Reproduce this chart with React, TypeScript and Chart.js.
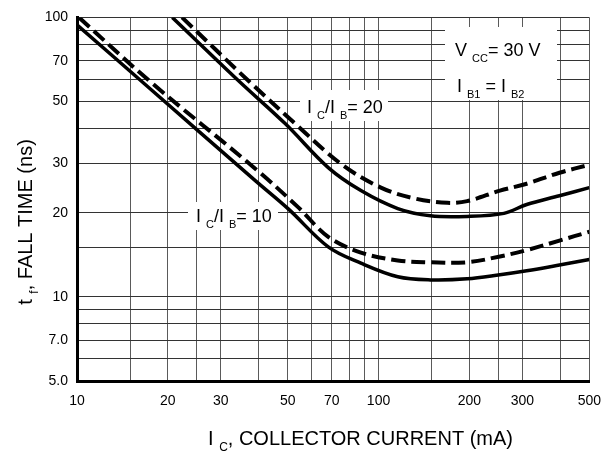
import React, { useEffect, useRef } from 'react';
import { Chart, registerables } from 'chart.js';

Chart.register(...registerables);

// Grid lines and tick labels
const xGridValues = [10, 15, 20, 25, 30, 40, 50, 60, 70, 80, 90, 100, 150, 200, 250, 300, 400, 500];
const xTickValues = [10, 20, 30, 50, 70, 100, 200, 300, 500];
const xTickLabels = ['10', '20', '30', '50', '70', '100', '200', '300', '500'];
const yGridValues = [5, 6, 7, 8, 9, 10, 15, 20, 30, 40, 50, 60, 70, 80, 90, 100];
const yTickValues = [5, 7, 10, 20, 30, 50, 70, 100];
const yTickLabels = ['5.0', '7.0', '10', '20', '30', '50', '70', '100'];

// IC/IB = 10, solid
const solid10Current = [10, 17.4, 39.1, 50.3, 68.1, 87.4, 115.8, 148.7, 196.8, 252.7, 310, 398, 500];
const solid10Time = [94, 55.8, 26.0, 20.6, 15.1, 13.2, 11.8, 11.5, 11.6, 12.0, 12.4, 13.0, 13.6];
// IC/IB = 10, dashed
const dashed10Current = [10.15, 17.4, 39.1, 54.2, 68.1, 87.4, 115.8, 145.4, 196.8, 252.7, 310, 398, 500];
const dashed10Time = [100, 59.2, 28.7, 20.9, 16.4, 14.4, 13.5, 13.3, 13.3, 13.95, 14.7, 15.9, 17.1];
// IC/IB = 20, solid
const solid20Current = [20.7, 34.4, 49.1, 68.1, 87.4, 115.8, 148.7, 196.8, 260.5, 310, 398, 500];
const solid20Time = [100, 59.2, 41.6, 29.0, 24.0, 20.7, 19.5, 19.4, 19.9, 21.4, 23.0, 24.6];
// IC/IB = 20, dashed
const dashed20Current = [22.3, 37.1, 53.0, 75.1, 101.8, 131.7, 169.2, 196.8, 252.7, 310, 398, 500];
const dashed20Time = [100, 59.2, 41.6, 29.9, 24.6, 22.5, 21.7, 22.0, 24.0, 25.4, 27.8, 29.7];

const FONT = '"Liberation Sans", Arial, Helvetica, sans-serif';

type Part = [string, boolean];

function richWidth(ctx: CanvasRenderingContext2D, parts: Part[], size: number, subSize: number) {
  let w = 0;
  for (const [t, sub] of parts) {
    ctx.font = `${sub ? subSize : size}px ${FONT}`;
    w += ctx.measureText(t).width;
  }
  return w;
}

function drawRich(
  ctx: CanvasRenderingContext2D,
  parts: Part[],
  x: number,
  y: number,
  size: number,
  subSize: number,
  drop: number
) {
  let cx = x;
  ctx.textBaseline = 'alphabetic';
  ctx.textAlign = 'left';
  ctx.fillStyle = '#000';
  for (const [t, sub] of parts) {
    ctx.font = `${sub ? subSize : size}px ${FONT}`;
    ctx.fillText(t, cx, sub ? y + drop : y);
    cx += ctx.measureText(t).width;
  }
}

const toPoints = (xs: number[], ys: number[]) => xs.map((x, i) => ({ x, y: ys[i] }));

const annotationPlugin = {
  id: 'annotations',
  beforeDatasetsDraw(chart: any) {
    const ctx: CanvasRenderingContext2D = chart.ctx;
    ctx.save();
    ctx.fillStyle = '#fff';
    ctx.fillRect(445, 27, 112, 73);
    ctx.fillRect(300, 90, 88, 31);
    ctx.fillRect(188, 202, 90, 28);
    ctx.restore();
  },
  afterDraw(chart: any) {
    const ctx: CanvasRenderingContext2D = chart.ctx;
    ctx.save();
    // in-plot labels
    drawRich(ctx, [['V ', false], ['CC', true], ['= 30 V', false]], 455, 56, 18, 11, 6);
    drawRich(ctx, [['I ', false], ['B1', true], [' = I ', false], ['B2', true]], 457, 92, 18, 11, 6);
    drawRich(ctx, [['I ', false], ['C', true], ['/I ', false], ['B', true], ['= 20', false]], 307, 113, 18, 11, 6);
    drawRich(ctx, [['I ', false], ['C', true], ['/I ', false], ['B', true], ['= 10', false]], 196, 222, 18, 11, 6);

    // x axis title
    const xParts: Part[] = [['I ', false], ['C', true], [', COLLECTOR CURRENT (mA)', false]];
    const xw = richWidth(ctx, xParts, 20, 12);
    drawRich(ctx, xParts, 513 - xw, 445, 20, 12, 6);

    // y axis title
    const yParts: Part[] = [['t ', false], ['f', true], [', FALL TIME (ns)', false]];
    const yw = richWidth(ctx, yParts, 20, 12);
    ctx.translate(32, 222);
    ctx.rotate(-Math.PI / 2);
    drawRich(ctx, yParts, -yw / 2, 0, 20, 12, 6);
    ctx.restore();
  },
};

export default function App() {
  const canvasRef = useRef<HTMLCanvasElement | null>(null);

  useEffect(() => {
    if (!canvasRef.current) return;
    const solidStyle = {
      borderColor: '#000',
      borderWidth: 3.5,
      pointRadius: 0,
      fill: false,
      tension: 0.35,
      clip: 0,
    };
    const chart = new Chart(canvasRef.current, {
      type: 'line',
      data: {
        datasets: [
          { ...solidStyle, label: 'IC/IB=10 solid', data: toPoints(solid10Current, solid10Time) },
          { ...solidStyle, label: 'IC/IB=10 dashed', borderWidth: 4, borderDash: [14, 6], data: toPoints(dashed10Current, dashed10Time) },
          { ...solidStyle, label: 'IC/IB=20 solid', data: toPoints(solid20Current, solid20Time) },
          { ...solidStyle, label: 'IC/IB=20 dashed', borderWidth: 4, borderDash: [14, 6], data: toPoints(dashed20Current, dashed20Time) },
        ],
      },
      options: {
        responsive: false,
        animation: false,
        devicePixelRatio: 1,
        layout: { padding: { left: 0, right: 20, top: 15, bottom: 0 } },
        plugins: { legend: { display: false }, tooltip: { enabled: false } },
        elements: { line: { borderCapStyle: 'butt' } },
        scales: {
          x: {
            type: 'logarithmic',
            min: 10,
            max: 500,
            afterFit: (s: any) => { s.height = 72; },
            afterBuildTicks: (s: any) => { s.ticks = xGridValues.map((v) => ({ value: v })); },
            ticks: {
              autoSkip: false,
              maxRotation: 0,
              minRotation: 0,
              padding: 12,
              color: '#000',
              font: { family: FONT, size: 14 },
              callback: (v: any) => {
                const i = xTickValues.indexOf(Number(v));
                return i >= 0 ? xTickLabels[i] : '';
              },
            },
            grid: { color: '#5a5a5a', lineWidth: 1, drawTicks: false },
            border: { display: true, color: '#000', width: 3 },
          },
          y: {
            type: 'logarithmic',
            min: 5,
            max: 100,
            afterFit: (s: any) => { s.width = 77; },
            afterBuildTicks: (s: any) => { s.ticks = yGridValues.map((v) => ({ value: v })); },
            ticks: {
              autoSkip: false,
              padding: 9,
              color: '#000',
              font: { family: FONT, size: 14 },
              callback: (v: any) => {
                const i = yTickValues.indexOf(Number(v));
                return i >= 0 ? yTickLabels[i] : '';
              },
            },
            grid: { color: '#333', lineWidth: 1, drawTicks: false },
            border: { display: true, color: '#000', width: 3 },
          },
        },
      },
      plugins: [annotationPlugin],
    });
    return () => chart.destroy();
  }, []);

  return (
    <div style={{ position: 'absolute', left: 0, top: 0, width: 613, height: 453, background: '#fff' }}>
      <canvas ref={canvasRef} width={613} height={453} style={{ display: 'block' }} />
    </div>
  );
}
